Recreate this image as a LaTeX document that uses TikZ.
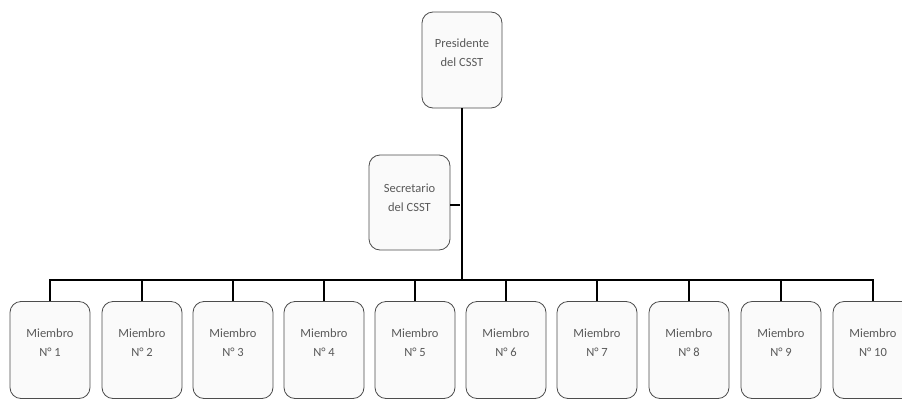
\documentclass[tikz,border=0pt]{standalone}
\usepackage{fontspec}
\setmainfont{Carlito}
\begin{document}
\begin{tikzpicture}[x=1pt,y=-1pt,
  box/.style={draw=black!70, line width=0.8pt, fill=black!2, rounded corners=11pt,
    minimum width=80pt, minimum height=96pt, inner sep=0pt},
  lbl/.style={align=center, font=\fontsize{12.5}{19}\selectfont, text=black!65, inner sep=0pt},
  conn/.style={line width=2.6pt, black}]
\useasboundingbox (0,0) rectangle (902,399);
\node[box] (pres) at (462,60) {};
\node[lbl] (presT) at ([yshift=7pt]pres.center) {Presidente\\del CSST};
\node[box, minimum width=81pt, minimum height=95pt] (sec) at (409.5,202.5) {};
\node[lbl] (secT) at ([yshift=5pt]sec.center) {Secretario\\del CSST};
\coordinate (bus) at (460,280);
\coordinate (junc) at (460,205);
\foreach \i/\x in {1/50,2/142,3/233,4/324,5/415,6/506,7/597,8/689,9/781,10/873} {
  \node[box, minimum height=97pt] (m\i) at (\x,350) {};
  \node[lbl] (m\i T) at ([yshift=7pt]m\i.center) {Miembro\\N° \i};
}
\draw[conn] (pres.south) -- (pres.south |- bus);
\draw[conn] (sec.east |- junc) -- (junc);
\draw[conn] (m1.north) -- (m1.north |- bus) -- (m10.north |- bus) -- (m10.north);
\foreach \i in {2,...,9} { \draw[conn] (m\i.north) -- (m\i.north |- bus); }
\end{tikzpicture}
\end{document}
